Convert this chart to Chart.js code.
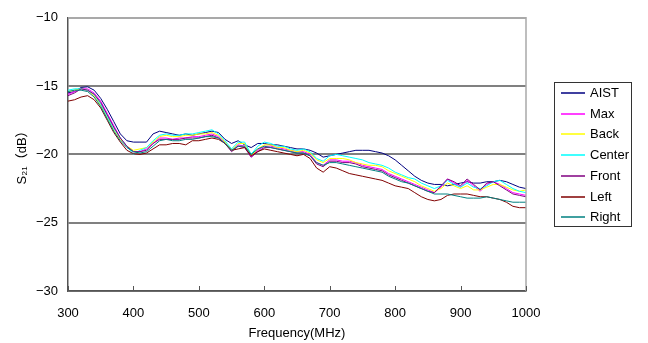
<!DOCTYPE html>
<html>
<head>
<meta charset="utf-8">
<script src="https://cdn.jsdelivr.net/npm/chart.js@4/dist/chart.umd.min.js"></script>
<style>
  html, body { margin: 0; padding: 0; background: #fff; }
  #wrap { width: 648px; height: 343px; }
</style>
</head>
<body>
<div id="wrap"><canvas id="s21Chart" width="648" height="343"></canvas></div>
<script>
// frequency points (MHz)
const freq = [300,310,320,330,340,350,360,370,380,390,400,410,420,430,440,450,460,470,480,490,
  500,510,520,530,540,550,560,570,580,590,600,610,620,630,640,650,660,670,680,690,
  700,710,720,730,740,750,760,770,780,790,800,810,820,830,840,850,860,870,880,890,
  900,910,920,930,940,950,960,970,980,990,1000];

// S21 (dB) per measurement position
const aist = [-15.5,-15.4,-15.1,-15.05,-15.3,-15.9,-16.7,-17.6,-18.5,-19.0,-19.1,-19.1,-19.1,-18.5,-18.3,-18.4,-18.5,-18.6,-18.5,-18.6,
  -18.5,-18.4,-18.3,-18.4,-18.9,-19.2,-19.0,-19.3,-19.5,-19.2,-19.2,-19.3,-19.3,-19.4,-19.5,-19.6,-19.6,-19.7,-19.9,-20.2,
  -20.1,-20.0,-19.9,-19.8,-19.7,-19.7,-19.7,-19.8,-19.9,-20.1,-20.4,-20.8,-21.2,-21.6,-21.9,-22.1,-22.2,-22.2,-22.3,-22.2,
  -22.1,-22.0,-22.1,-22.1,-22.0,-22.0,-21.9,-22.0,-22.2,-22.4,-22.5];
const max = [-15.6,-15.4,-15.2,-15.2,-15.5,-16.1,-17.0,-17.9,-18.8,-19.4,-19.8,-19.8,-19.6,-19.2,-18.8,-18.8,-18.9,-18.8,-18.8,-18.7,
  -18.7,-18.6,-18.5,-18.7,-19.2,-19.7,-19.3,-19.4,-20.2,-19.7,-19.4,-19.4,-19.5,-19.6,-19.7,-19.8,-19.8,-20.0,-20.6,-20.8,
  -20.4,-20.4,-20.5,-20.5,-20.6,-20.8,-20.9,-21.0,-21.1,-21.4,-21.6,-21.8,-22.0,-22.2,-22.4,-22.6,-22.8,-22.4,-21.8,-22.1,
  -22.4,-21.9,-22.3,-22.7,-22.2,-22.0,-22.2,-22.5,-22.8,-22.9,-23.0];
const back = [-15.4,-15.3,-15.2,-15.3,-15.7,-16.4,-17.3,-18.2,-18.9,-19.4,-19.7,-19.6,-19.5,-19.1,-18.7,-18.6,-18.7,-18.7,-18.6,-18.6,
  -18.5,-18.5,-18.4,-18.6,-19.1,-19.7,-19.2,-19.2,-20.1,-19.6,-19.3,-19.3,-19.5,-19.5,-19.7,-19.8,-19.7,-19.9,-20.4,-20.6,
  -20.3,-20.3,-20.3,-20.4,-20.6,-20.7,-20.8,-20.8,-20.9,-21.2,-21.4,-21.6,-21.8,-22.0,-22.3,-22.5,-22.7,-22.5,-22.1,-22.3,
  -22.5,-22.3,-22.6,-22.6,-22.4,-22.2,-22.2,-22.4,-22.6,-22.7,-22.6];
const center = [-15.3,-15.2,-15.2,-15.3,-15.6,-16.3,-17.2,-18.1,-18.8,-19.4,-20.0,-19.7,-19.5,-19.0,-18.6,-18.5,-18.6,-18.6,-18.5,-18.5,
  -18.4,-18.3,-18.2,-18.5,-19.0,-19.6,-19.1,-19.1,-20.0,-19.4,-19.1,-19.2,-19.4,-19.4,-19.6,-19.7,-19.6,-19.8,-20.3,-20.5,
  -20.1,-20.0,-20.1,-20.2,-20.3,-20.4,-20.6,-20.7,-20.8,-21.0,-21.3,-21.5,-21.7,-21.8,-22.1,-22.3,-22.5,-22.3,-21.9,-22.2,
  -22.4,-22.1,-22.4,-22.5,-22.3,-22.0,-21.9,-22.2,-22.5,-22.7,-22.8];
const front = [-15.7,-15.5,-15.2,-15.3,-15.6,-16.2,-17.1,-18.0,-18.8,-19.4,-19.8,-19.8,-19.7,-19.2,-18.9,-18.9,-18.9,-18.9,-18.8,-18.8,
  -18.8,-18.7,-18.6,-18.8,-19.2,-19.8,-19.4,-19.5,-20.2,-19.8,-19.5,-19.5,-19.6,-19.7,-19.8,-19.9,-19.9,-20.1,-20.7,-20.9,
  -20.5,-20.5,-20.6,-20.6,-20.7,-20.9,-21.0,-21.1,-21.2,-21.5,-21.7,-21.9,-22.1,-22.3,-22.5,-22.7,-22.8,-22.3,-21.8,-22.0,
  -22.3,-21.8,-22.2,-22.6,-22.1,-22.0,-22.3,-22.6,-22.9,-23.0,-23.1];
const left = [-16.1,-16.0,-15.8,-15.7,-16.0,-16.6,-17.5,-18.4,-19.1,-19.7,-19.95,-20.0,-19.9,-19.6,-19.3,-19.3,-19.2,-19.2,-19.3,-19.0,
  -19.0,-18.9,-18.8,-18.9,-19.2,-19.7,-19.6,-19.5,-20.1,-19.8,-19.6,-19.7,-19.8,-19.9,-20.0,-20.1,-20.0,-20.3,-21.0,-21.3,
  -20.9,-21.0,-21.2,-21.4,-21.5,-21.6,-21.7,-21.8,-21.9,-22.1,-22.3,-22.4,-22.5,-22.8,-23.1,-23.3,-23.4,-23.3,-23.0,-22.9,
  -22.9,-22.9,-23.0,-23.1,-23.1,-23.2,-23.3,-23.5,-23.8,-23.9,-23.9];
const right = [-15.4,-15.3,-15.3,-15.4,-15.8,-16.5,-17.4,-18.3,-19.0,-19.5,-19.8,-19.9,-19.8,-19.4,-19.0,-18.9,-19.0,-19.0,-18.9,-18.9,
  -18.8,-18.7,-18.7,-18.8,-19.2,-19.7,-19.4,-19.4,-20.0,-19.6,-19.4,-19.5,-19.6,-19.7,-19.8,-19.9,-19.9,-20.1,-20.6,-20.8,
  -20.6,-20.6,-20.7,-20.8,-20.9,-21.0,-21.1,-21.2,-21.3,-21.6,-21.8,-22.0,-22.1,-22.3,-22.5,-22.7,-22.9,-22.9,-22.9,-23.0,
  -23.1,-23.2,-23.2,-23.2,-23.1,-23.2,-23.3,-23.4,-23.5,-23.5,-23.5];

const seriesNames = ['AIST', 'Max', 'Back', 'Center', 'Front', 'Left', 'Right'];
const seriesData = [aist, max, back, center, front, left, right];
const seriesColors = ['#000080', '#ff00ff', '#ffff00', '#00ffff', '#800080', '#800000', '#008080'];
const xTicks = [300, 400, 500, 600, 700, 800, 900, 1000];

const FONT = "'Liberation Sans', 'Noto Sans CJK JP', sans-serif";

const datasets = seriesNames.map((name, i) => ({
  label: name,
  data: seriesData[i].map((v, j) => ({ x: freq[j], y: v })),
  borderColor: seriesColors[i],
  backgroundColor: seriesColors[i],
  borderWidth: 1,
  pointRadius: 0,
  tension: 0,
  order: seriesNames.length - i   // later series drawn on top, like the original
}));

// frame, inner x ticks and boxed legend
const framePlugin = {
  id: 'framePlugin',
  afterDraw(chart) {
    const { ctx, chartArea: a, scales: { x } } = chart;
    ctx.save();
    ctx.strokeStyle = '#a9a9a9';
    ctx.lineWidth = 1.5;
    ctx.beginPath();
    ctx.moveTo(a.left, a.top);
    ctx.lineTo(a.right, a.top);
    ctx.lineTo(a.right, a.bottom);
    ctx.stroke();

    ctx.strokeStyle = '#555';
    ctx.lineWidth = 1;
    xTicks.forEach(v => {
      const px = Math.round(x.getPixelForValue(v)) + 0.5;
      ctx.beginPath();
      ctx.moveTo(px, a.bottom);
      ctx.lineTo(px, a.bottom - 5);
      ctx.stroke();
    });

    // legend box
    const bx = 554, by = 82, bw = 77, bh = 144;
    ctx.strokeStyle = '#333';
    ctx.lineWidth = 1;
    ctx.strokeRect(bx + 0.5, by + 0.5, bw, bh);
    ctx.font = '13px ' + FONT;
    ctx.textBaseline = 'middle';
    ctx.fillStyle = '#000';
    chart.data.datasets.forEach((ds, i) => {
      const cy = Math.round(93 + i * 20.7);
      ctx.strokeStyle = ds.borderColor;
      ctx.lineWidth = 1.5;
      ctx.beginPath();
      ctx.moveTo(561, cy);
      ctx.lineTo(585, cy);
      ctx.stroke();
      ctx.fillText(ds.label, 590, cy);
    });
    ctx.restore();
  }
};

new Chart(document.getElementById('s21Chart'), {
  type: 'line',
  data: { datasets },
  options: {
    responsive: false,
    animation: false,
    devicePixelRatio: 1,
    layout: { padding: { left: 0, top: 16, right: 122, bottom: 0 } },
    plugins: {
      legend: { display: false },
      tooltip: { enabled: false }
    },
    scales: {
      x: {
        type: 'linear',
        min: 300,
        max: 1000,
        afterBuildTicks(scale) { scale.ticks = xTicks.map(v => ({ value: v })); },
        afterFit(scale) { scale.height = 52; },
        grid: { display: true, drawOnChartArea: false, drawTicks: false },
        border: { display: true, color: '#555', width: 1.5 },
        ticks: {
          padding: 15,
          color: '#000',
          font: { size: 13, family: FONT },
          maxRotation: 0,
          callback: v => String(v)
        },
        title: {
          display: true,
          text: 'Frequency(MHz)',
          color: '#000',
          font: { size: 13, family: FONT },
          padding: { top: 0, bottom: 2 }
        }
      },
      y: {
        min: -30,
        max: -10,
        ticks: {
          stepSize: 5,
          padding: 10,
          color: '#000',
          font: { size: 13, family: FONT },
          callback: v => (v < 0 ? '\u2212' + Math.abs(v) : String(v))
        },
        afterFit(scale) { scale.width = 68; },
        grid: {
          drawTicks: false,
          color: ctx => (ctx.tick && ctx.tick.value === -10 ? '#a9a9a9' : '#808080'),
          lineWidth: 2
        },
        border: { display: true, color: '#555', width: 1.5 },
        title: {
          display: true,
          text: 'S\u2082\u2081\uFF08dB\uFF09',
          color: '#000',
          font: { size: 13, family: FONT },
          padding: { top: 15, bottom: 0 }
        }
      }
    }
  },
  plugins: [framePlugin]
});
</script>
</body>
</html>
